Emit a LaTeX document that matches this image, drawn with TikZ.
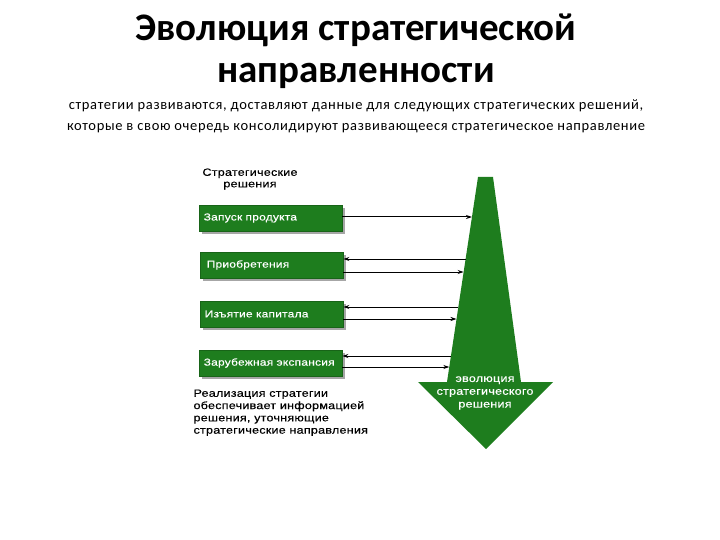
\documentclass[tikz,border=0pt]{standalone}
\usepackage{fontspec}
\setmainfont{Carlito}
\newfontfamily\arialf[FakeStretch=1.2,LetterSpace=2,FakeBold=0.4]{Liberation Sans}
\newfontfamily\subf[LetterSpace=4.5]{Carlito}
\usetikzlibrary{arrows.meta,calc}
\definecolor{dgreen}{RGB}{30,125,30}
\tikzset{
  decbox/.style={fill=dgreen, draw=dgreen!80!black, text=white, font=\arialf\fontsize{10}{12}\selectfont, minimum width=143pt, minimum height=26pt, anchor=west, text width=134pt, align=left, inner sep=4.5pt},
  shadowbox/.style={fill=black!35, minimum width=143pt, minimum height=26pt, anchor=west},
  conn/.style={line width=1pt, -{Stealth[length=6pt,width=4pt]}},
  connb/.style={line width=1pt, {Stealth[length=6pt,width=4pt]}-},
  smalltxt/.style={font=\arialf\fontsize{10.5}{12.3}\selectfont, align=left}
}
\begin{document}
\begin{tikzpicture}[x=1pt,y=-1pt]
\useasboundingbox (0,0) rectangle (720,540);
% title
\node[font=\bfseries\fontsize{39}{44}\selectfont] (t1) at (356,30) {Эволюция стратегической};
\node[font=\bfseries\fontsize{39}{44}\selectfont] (t2) at (356,76) {направленности};
\node[font=\subf\fontsize{14.5}{17}\selectfont] (s1) at (356,106) {стратегии развиваются, доставляют данные для следующих стратегических решений,};
\node[font=\subf\fontsize{14.5}{17}\selectfont] (s2) at (356,128) {которые в свою очередь консолидируют развивающееся стратегическое направление};
% big arrow
\fill[dgreen] (478,177) -- (493,177) -- (521,382) -- (553,382) -- (486,449) -- (418,382) -- (447,382) -- cycle;
\node[text=white, font=\arialf\fontsize{10.5}{12.8}\selectfont, align=center] (ev) at (485,393) {эволюция\\стратегического\\решения};
% header label
\node[font=\arialf\fontsize{10.5}{11.5}\selectfont, align=center] (hd) at (250,179) {Стратегические\\решения};
% boxes with shadows
\node[shadowbox] at (202,221) {};
\node[decbox] (b1) at (199,218) {Запуск продукта};
\node[shadowbox] at (203,268) {};
\node[decbox] (b2) at (200,265) {\hspace*{2pt}Приобретения};
\node[shadowbox] at (203,317) {};
\node[decbox] (b3) at (200,314) {Изъятие капитала};
\node[shadowbox] at (202,366) {};
\node[decbox] (b4) at (199,363) {Зарубежная экспансия};
% edge points on big arrow
\coordinate (e1) at (472,217);
\coordinate (e2a) at (465.6,259);
\coordinate (e2b) at (463.6,272);
\coordinate (e3a) at (458.3,307);
\coordinate (e3b) at (456.5,319);
\coordinate (e4a) at (450.9,356);
\coordinate (e4b) at (449.3,367);
% connectors
\draw[conn] (b1.east |- e1) -- (e1);
\draw[connb] (b2.east |- e2a) -- (e2a);
\draw[conn] (b2.east |- e2b) -- (e2b);
\draw[connb] (b3.east |- e3a) -- (e3a);
\draw[conn] (b3.east |- e3b) -- (e3b);
\draw[connb] (b4.east |- e4a) -- (e4a);
\draw[conn] (b4.east |- e4b) -- (e4b);
% bottom note
\node[smalltxt, anchor=north west] (note) at (190,386) {Реализация стратегии\\обеспечивает информацией\\решения, уточняющие\\стратегические направления};
\end{tikzpicture}
\end{document}
